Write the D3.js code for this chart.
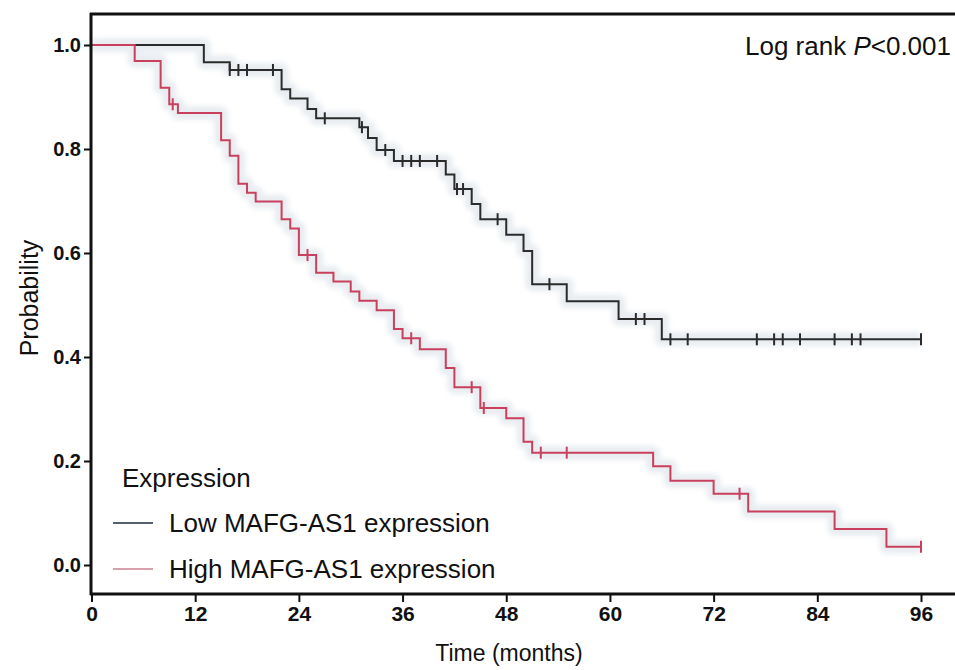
<!DOCTYPE html>
<html>
<head>
<meta charset="utf-8">
<script src="https://cdn.jsdelivr.net/npm/d3@7"></script>
<style>
  body { margin: 0; background: #fff; }
  svg { display: block; font-family: 'Liberation Sans', Arial, sans-serif; }
  .tick-y { font-weight: bold; font-size: 20px; }
  .tick-x { font-family: 'Liberation Sans Narrow', 'Liberation Sans', sans-serif; font-weight: bold; font-size: 21px; }
</style>
</head>
<body>
<div id="chart"></div>
<script>
// Low MAFG-AS1 expression: event times (months) and survival after each step
const lowTimes = [0, 13, 16, 22, 23, 25, 26, 31, 32, 33, 35, 41, 42, 44, 45, 48, 50, 51, 55, 61, 66]
const lowSurv = [1.0, 0.967, 0.952, 0.915, 0.897, 0.877, 0.859, 0.842, 0.821, 0.798, 0.777, 0.751, 0.723, 0.694, 0.665, 0.635, 0.604, 0.540, 0.507, 0.473, 0.434]
const lowCensor = [16, 17, 18, 21, 27, 31.3, 34, 36, 37, 38, 40, 42.3, 43, 47, 53, 63, 64, 67, 69, 77, 79, 80, 82, 86, 88, 89, 96]

// High MAFG-AS1 expression
const highTimes = [0, 5, 8, 9, 10, 15, 16, 17, 18, 19, 22, 23, 24, 26, 28, 30, 31, 33, 35, 36, 38, 41, 42, 45, 48, 50, 51, 65, 67, 72, 76, 86, 92]
const highSurv = [1.0, 0.969, 0.918, 0.886, 0.869, 0.817, 0.787, 0.733, 0.716, 0.699, 0.665, 0.647, 0.596, 0.562, 0.545, 0.526, 0.508, 0.490, 0.454, 0.436, 0.415, 0.379, 0.342, 0.302, 0.282, 0.237, 0.216, 0.190, 0.162, 0.137, 0.103, 0.069, 0.035]
const highCensor = [9.4, 25, 37, 44, 45.4, 52, 55, 75, 96]

const xTicks = [0, 12, 24, 36, 48, 60, 72, 84, 96]
const yTicks = [0, 0.2, 0.4, 0.6, 0.8, 1.0]

const series = [
  { name: 'Low MAFG-AS1 expression', times: lowTimes, surv: lowSurv, censor: lowCensor, color: '#2b2b2b', legend: '#56606a' },
  { name: 'High MAFG-AS1 expression', times: highTimes, surv: highSurv, censor: highCensor, color: '#c9405e', legend: '#d8a0ac' },
]

const width = 955
const height = 670
const maxTime = 96

const x = d3.scaleLinear().domain([0, 96]).range([91.5, 921])
const y = d3.scaleLinear().domain([0, 1]).range([565, 45])

const svg = d3.select('#chart')
  .append('svg')
  .attr('width', width)
  .attr('height', height)

// blur for the soft halo under the curves
svg.append('defs')
  .append('filter')
    .attr('id', 'soft')
    .attr('x', '-5%').attr('y', '-5%').attr('width', '110%').attr('height', '110%')
  .append('feGaussianBlur')
    .attr('stdDeviation', 2.5)

// step value at time t
function survAt(s, t) {
  let v = s.surv[0]
  s.times.forEach((tt, i) => { if (tt <= t) v = s.surv[i] })
  return v
}

function stepPoints(s) {
  const pts = s.times.map((t, i) => [t, s.surv[i]])
  pts.push([maxTime, s.surv[s.surv.length - 1]])
  return pts
}

const line = d3.line()
  .x(d => x(d[0]))
  .y(d => y(d[1]))
  .curve(d3.curveStepAfter)

const halo = svg.append('g').attr('filter', 'url(#soft)')
series.forEach(s => {
  halo.append('path')
    .attr('d', line(stepPoints(s)))
    .attr('fill', 'none')
    .attr('stroke', '#e9edf1')
    .attr('stroke-width', 14)
    .attr('stroke-linejoin', 'round')
})

const curves = svg.append('g')
series.forEach(s => {
  curves.append('path')
    .attr('d', line(stepPoints(s)))
    .attr('fill', 'none')
    .attr('stroke', s.color)
    .attr('stroke-width', 2)

  curves.selectAll(null)
    .data(s.censor)
    .enter()
    .append('line')
    .attr('x1', d => x(d))
    .attr('x2', d => x(d))
    .attr('y1', d => y(survAt(s, d)) - 6)
    .attr('y2', d => y(survAt(s, d)) + 6)
    .attr('stroke', s.color)
    .attr('stroke-width', 2)
})

// frame: top line, left axis, bottom axis
svg.append('line')
  .attr('x1', 90).attr('x2', width).attr('y1', 14).attr('y2', 14)
  .attr('stroke', '#111').attr('stroke-width', 3)

const xAxis = svg.append('g')
  .attr('transform', 'translate(0,594)')
  .call(d3.axisBottom(x).tickValues(xTicks).tickSize(8).tickPadding(4).tickFormat(d3.format('d')))
xAxis.select('.domain').remove()
xAxis.selectAll('.tick line').attr('stroke', '#111').attr('stroke-width', 2)
xAxis.selectAll('.tick text').attr('class', 'tick-x').attr('fill', '#111')
svg.append('line')
  .attr('x1', 90).attr('x2', width).attr('y1', 594).attr('y2', 594)
  .attr('stroke', '#111').attr('stroke-width', 3)

const yAxis = svg.append('g')
  .attr('transform', 'translate(91,0)')
  .call(d3.axisLeft(y).tickValues(yTicks).tickSize(7).tickPadding(3).tickFormat(d3.format('.1f')))
yAxis.select('.domain').remove()
yAxis.selectAll('.tick line').attr('stroke', '#111').attr('stroke-width', 2)
yAxis.selectAll('.tick text').attr('class', 'tick-y').attr('fill', '#111')
svg.append('line')
  .attr('x1', 91).attr('x2', 91).attr('y1', 13).attr('y2', 595)
  .attr('stroke', '#111').attr('stroke-width', 3)

// axis titles
svg.append('text')
  .attr('x', 509)
  .attr('y', 661)
  .attr('text-anchor', 'middle')
  .attr('font-size', 23)
  .attr('fill', '#111')
  .text('Time (months)')

svg.append('text')
  .attr('transform', 'translate(38,298) rotate(-90)')
  .attr('text-anchor', 'middle')
  .attr('font-size', 25)
  .attr('fill', '#111')
  .text('Probability')

// log rank annotation
const lr = svg.append('text')
  .attr('x', 745)
  .attr('y', 55)
  .attr('font-size', 26)
  .attr('fill', '#111')
lr.append('tspan').text('Log rank ')
lr.append('tspan').attr('font-style', 'italic').text('P')
lr.append('tspan').text('<0.001')

// legend
const legend = svg.append('g')
legend.append('text')
  .attr('x', 122)
  .attr('y', 487)
  .attr('font-size', 26)
  .attr('fill', '#111')
  .text('Expression')

series.forEach((s, i) => {
  const ly = 523 + i * 46
  legend.append('line')
    .attr('x1', 113).attr('x2', 153)
    .attr('y1', ly).attr('y2', ly)
    .attr('stroke', s.legend)
    .attr('stroke-width', 2)
  legend.append('text')
    .attr('x', 169)
    .attr('y', ly + 9)
    .attr('font-size', 26)
    .attr('fill', '#111')
    .text(s.name)
})
</script>
</body>
</html>
